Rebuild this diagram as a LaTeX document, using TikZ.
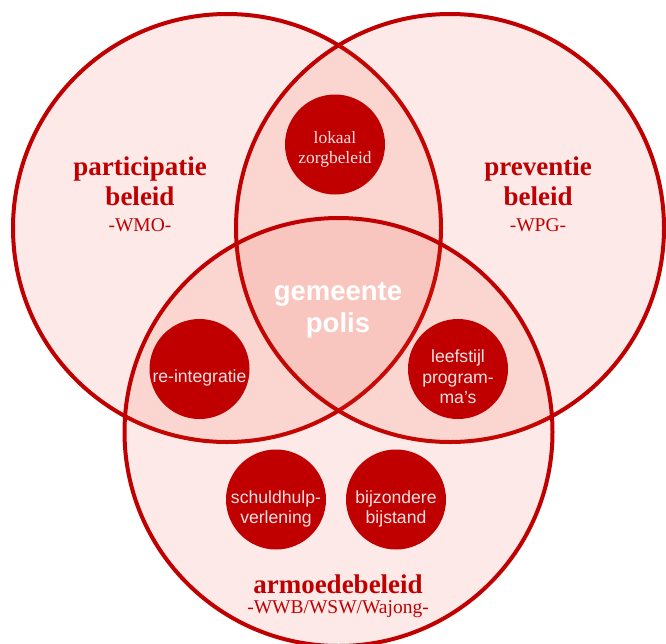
\documentclass[tikz,border=0pt]{standalone}
\usepackage{fontspec}
\setmainfont{Liberation Serif}
\setsansfont{Liberation Sans}
\usetikzlibrary{positioning}
\definecolor{polisred}{RGB}{192,0,0}
\definecolor{polistint}{RGB}{236,58,36}
\definecolor{polispale}{RGB}{246,226,226}

\tikzset{
  setcircle/.style={circle,draw=polisred,line width=4pt,fill=polistint,fill opacity=0.11,minimum size=428pt,inner sep=0pt},
  itemcircle/.style={circle,fill=polisred,minimum size=100pt,inner sep=0pt},
  itemserif/.style={text=polispale,align=center,font=\fontsize{17.4}{20}\selectfont},
  itemsans/.style={text=polispale,align=center,font=\sffamily\fontsize{17.6}{20.5}\selectfont},
  setname/.style={text=polisred,align=center,font=\bfseries\fontsize{27}{30}\selectfont},
  setlaw/.style={text=polisred,font=\fontsize{19.5}{20}\selectfont},
}

\begin{document}
\begin{tikzpicture}[x=1pt,y=-1pt]
        \useasboundingbox(0,0)rectangle(666,643);
        % the three policy sets
        \node[setcircle](wmo)at(227,228){};
        \node[setcircle](wpg)at(450,228){};
        \node[setcircle](wwb)at(338.5,432){};
        \node[setname,anchor=base](partname)at(140,205){participatie\\beleid};
        \node[setlaw,anchor=base](partlaw)at(140,231){-WMO-};
        \node[setname,anchor=base](prevname)at(538,205){preventie\\beleid};
        \node[setlaw,anchor=base](prevlaw)at(538,231){-WPG-};
        \node[setname,anchor=base](armname)at(338,593){armoedebeleid};
        \node[setlaw,anchor=base](armlaw)at(338,613){-WWB/WSW/Wajong-};
        \node[text=white,align=center,font=\sffamily\bfseries\fontsize{27.5}{32}\selectfont,anchor=base](polis)at(338,332){gemeente\\polis};
        % items in the overlaps
        \node[itemcircle](zorg)at(335,144.5){};
        \node[itemserif](zorgtext)at(335,149){lokaal\\zorgbeleid};
        \node[itemcircle](reint)at(199.5,369){};
        \node[itemsans](reinttext)at(199.5,378){re-integratie};
        \node[itemcircle](leef)at(458,369){};
        \node[itemsans](leeftext)at(458,377){leefstijl\\program-\\ma's};
        \node[itemcircle](schuld)at(276,499.5){};
        \node[itemsans](schuldtext)at(276,509){schuldhulp-\\verlening};
        \node[itemcircle](bijst)at(396,499.5){};
        \node[itemsans](bijsttext)at(396,509){bijzondere\\bijstand};
    \end{tikzpicture}
\end{document}
